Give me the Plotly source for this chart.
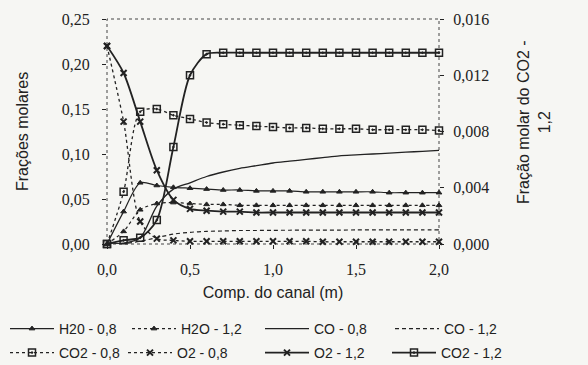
import plotly.graph_objects as go

# ---- data ----
x = [0.0, 0.1, 0.2, 0.3, 0.4, 0.5, 0.6, 0.7, 0.8, 0.9, 1.0,
     1.1, 1.2, 1.3, 1.4, 1.5, 1.6, 1.7, 1.8, 1.9, 2.0]

h2o_08 = [0.000, 0.036, 0.068, 0.065, 0.063, 0.062, 0.061, 0.060, 0.060, 0.059, 0.059,
          0.059, 0.058, 0.058, 0.058, 0.058, 0.058, 0.057, 0.057, 0.057, 0.057]
h2o_12 = [0.000, 0.014, 0.038, 0.045, 0.046, 0.045, 0.044, 0.044, 0.043, 0.043, 0.043,
          0.043, 0.043, 0.043, 0.043, 0.043, 0.043, 0.043, 0.043, 0.043, 0.043]
co_08 = [0.000, 0.001, 0.007, 0.042, 0.061, 0.068, 0.075, 0.080, 0.084, 0.087, 0.090,
         0.092, 0.094, 0.096, 0.098, 0.099, 0.100, 0.101, 0.102, 0.103, 0.104]
co_12 = [0.000, 0.0005, 0.003, 0.007, 0.011, 0.013, 0.014, 0.0145, 0.015, 0.015, 0.0152,
         0.0153, 0.0154, 0.0155, 0.0155, 0.0156, 0.0156, 0.0157, 0.0157, 0.0157, 0.0158]
co2_08 = [0.000, 0.058, 0.147, 0.150, 0.143, 0.139, 0.135, 0.133, 0.132, 0.131, 0.130,
          0.129, 0.129, 0.128, 0.128, 0.128, 0.127, 0.127, 0.127, 0.127, 0.126]
o2_08 = [0.220, 0.136, 0.025, 0.006, 0.004, 0.003, 0.003, 0.003, 0.003, 0.003, 0.003,
         0.003, 0.003, 0.0025, 0.0025, 0.0025, 0.0025, 0.0025, 0.0025, 0.0025, 0.0025]
o2_12 = [0.220, 0.190, 0.136, 0.082, 0.049, 0.039, 0.037, 0.036, 0.036, 0.035, 0.035,
         0.035, 0.035, 0.035, 0.035, 0.035, 0.035, 0.035, 0.035, 0.035, 0.035]
co2_12 = [0.0, 0.00026, 0.00045, 0.0017, 0.0069, 0.0120, 0.0135, 0.0136, 0.0136, 0.0136, 0.0136,
          0.0136, 0.0136, 0.0136, 0.0136, 0.0136, 0.0136, 0.0136, 0.0136, 0.0136, 0.0136]

names = ["H20 - 0,8", "H2O - 1,2", "CO - 0,8", "CO - 1,2",
         "CO2 - 0,8", "O2 - 0,8", "O2 - 1,2", "CO2 - 1,2"]

x_ticks = [0.0, 0.5, 1.0, 1.5, 2.0]
y_ticks = [0.00, 0.05, 0.10, 0.15, 0.20, 0.25]
y2_ticks = [0.000, 0.004, 0.008, 0.012, 0.016]

INK = "#222222"
BG = "#f6f6f3"

fig = go.Figure()


def add(y, name, dash, width, symbol, msize, legend, yaxis="y", mlw=1):
    mode = "lines+markers" if symbol else "lines"
    marker = dict(symbol=symbol, size=msize, color=INK,
                  line=dict(color=INK, width=mlw)) if symbol else None
    fig.add_trace(go.Scatter(
        x=x, y=y, name=name, mode=mode, yaxis=yaxis, legend=legend, showlegend=True,
        line=dict(color=INK, width=width, dash=dash, shape="spline", smoothing=0.8),
        marker=marker, cliponaxis=False))


add(h2o_08, names[0], "solid", 1.2, "triangle-up", 5, "legend")
add(h2o_12, names[1], "3px,3px", 1.2, "triangle-up", 5, "legend2")
add(co_08, names[2], "solid", 1.3, None, 0, "legend3")
add(co_12, names[3], "4px,3px", 1.2, None, 0, "legend4")
add(co2_08, names[4], "3px,3px", 1.3, "square-open-dot", 7, "legend5", mlw=1.5)
add(o2_08, names[5], "3px,3px", 1.3, "x-thin-open", 6, "legend6", mlw=2)
add(o2_12, names[6], "solid", 1.8, "x-thin-open", 6, "legend7", mlw=2)
add(co2_12, names[7], "solid", 1.8, "square-open-dot", 7, "legend8", yaxis="y2", mlw=1.5)

serif = dict(family="Liberation Serif", size=16, color=INK)
sans = dict(family="Liberation Sans", size=16, color=INK)

# legend positions (pixels in the 588x365 window): symbol start x, row centre y
leg_x = [10, 132, 265, 395, 10, 128, 265, 392]
leg_y = [329, 329, 329, 329, 353, 353, 353, 353]

legends = {}
for i, (lx, ly) in enumerate(zip(leg_x, leg_y)):
    key = "legend" if i == 0 else f"legend{i + 1}"
    legends[key] = dict(
        orientation="v", xref="container", yref="container",
        x=max(0.002, (lx - 5) / 588), y=1 - ly / 365, xanchor="left", yanchor="middle",
        itemwidth=44, font=dict(family="Liberation Sans", size=14, color=INK),
        bgcolor="rgba(0,0,0,0)")

PL, PR, PT, PB = 107, 439, 19, 244  # plot area in pixels
pw, ph = PR - PL, PB - PT

fig.update_layout(
    width=588, height=365,
    margin=dict(l=PL, r=588 - PR, t=PT, b=365 - PB, autoexpand=False),
    paper_bgcolor=BG, plot_bgcolor=BG,
    separators=",.",
    showlegend=True,
    xaxis=dict(range=[0, 2], tickvals=x_ticks, tickformat=".1f", showgrid=False,
               zeroline=False, ticks="outside", ticklen=4, tickcolor=INK,
               ticklabelstandoff=7,
               tickfont=serif, title=dict(text="Comp. do canal (m)", font=sans, standoff=9)),
    yaxis=dict(range=[0, 0.25], tickvals=y_ticks, tickformat=".2f", showgrid=False,
               zeroline=False, ticks="outside", ticklen=4, tickcolor=INK,
               ticklabelstandoff=9, tickfont=serif),
    yaxis2=dict(range=[0, 0.016], tickvals=y2_ticks, tickformat=".3f", showgrid=False,
                zeroline=False, overlaying="y", side="right", ticks="outside", ticklen=4,
                tickcolor=INK, tickfont=serif, ticklabelstandoff=6),
    shapes=[dict(type="rect", xref="paper", yref="paper", x0=0, x1=1, y0=0, y1=1,
                 line=dict(color="#444444", width=1, dash="dot"), layer="below")],
    annotations=[
        dict(text="Frações molares", textangle=-90, font=sans, showarrow=False,
             xref="paper", yref="paper", x=(22 - PL) / pw, y=(PB - 132) / ph,
             xanchor="center", yanchor="middle"),
        dict(text="Fração molar do CO2 -<br>1,2", textangle=-90, font=sans, showarrow=False,
             xref="paper", yref="paper", x=(534 - PL) / pw, y=(PB - 122) / ph,
             xanchor="center", yanchor="middle"),
    ],
    **legends,
)

fig.write_html("out.html", config={"displayModeBar": False},
               post_script="document.body.style.margin='0px';")
